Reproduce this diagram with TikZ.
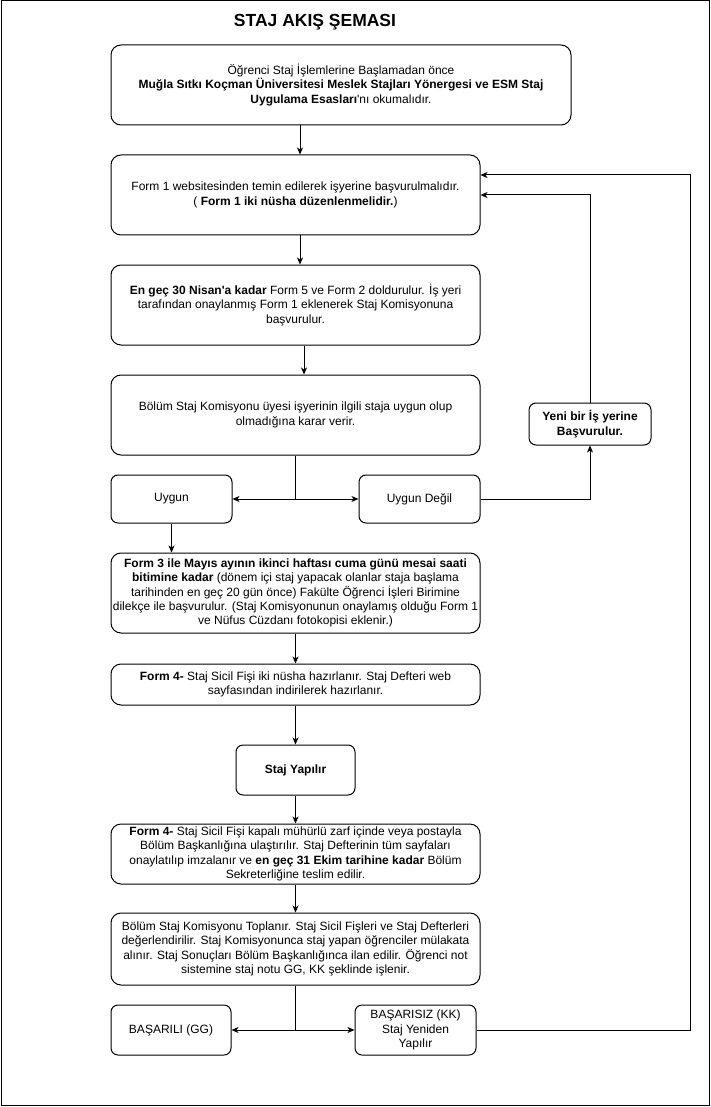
\documentclass[tikz,border=0pt]{standalone}
\usepackage{fontspec}
\setmainfont{Liberation Sans}
\usetikzlibrary{arrows.meta}

\begin{document}
\begin{tikzpicture}[x=1pt, y=-1pt,
               box_style/.style={draw=black, line width=1pt, rounded corners=10pt, align=center, inner sep=0pt, font=\fontsize{12}{14.4}\selectfont, minimum width=369pt, minimum height=80pt},
               small_style/.style={box_style, rounded corners=7pt, minimum width=121pt, minimum height=48pt},
               edge_style/.style={draw=black, line width=1pt, -{Stealth[length=7pt,width=6pt,inset=2pt]}},
               line_style/.style={draw=black, line width=1pt}]
                \useasboundingbox (0,0) rectangle (711,1107);
                \draw[line_style] (1,1) rectangle (709,1105);

                \node[font=\fontsize{17.5}{21}\selectfont\bfseries] (title) at (315,22) {STAJ AKIŞ ŞEMASI};

                \node[box_style, minimum width=460pt] (b0) at (341,85) {Öğrenci Staj İşlemlerine Başlamadan önce\\\textbf{Muğla Sıtkı Koçman Üniversitesi Meslek Stajları Yönergesi ve ESM Staj}\\\textbf{Uygulama Esasları}\textquotesingle nı okumalıdır.};
                \node[box_style] (b1) at (295.5,195) {Form 1 websitesinden temin edilerek işyerine başvurulmalıdır.\\( \textbf{Form 1 iki nüsha düzenlenmelidir.})};
                \node[box_style] (b2) at (295.5,305) {\textbf{En geç 30 Nisan\textquotesingle a kadar} Form 5 ve Form 2 doldurulur. İş yeri\\tarafından onaylanmış Form 1 eklenerek Staj Komisyonuna\\başvurulur.};
                \node[box_style] (b3) at (295.5,415) {Bölüm Staj Komisyonu üyesi işyerinin ilgili staja uygun olup\\olmadığına karar verir.};
                \node[small_style] (ok) at (171.5,499) {Uygun};
                \node[small_style] (notok) at (419.5,499) {Uygun Değil};
                \node[small_style, minimum width=122pt, minimum height=42pt] (newplace) at (590,424) {\textbf{Yeni bir İş yerine}\\\textbf{Başvurulur.}};
                \node[box_style] (b4) at (295.5,593) {\textbf{Form 3 ile Mayıs ayının ikinci haftası cuma günü mesai saati}\\\textbf{bitimine kadar} (dönem içi staj yapacak olanlar staja başlama\\tarihinden en geç 20 gün önce) Fakülte Öğrenci İşleri Birimine\\dilekçe ile başvurulur. (Staj Komisyonunun onaylamış olduğu Form 1\\ve Nüfus Cüzdanı fotokopisi eklenir.)};
                \node[box_style, minimum height=41pt] (b5) at (295.5,684.5) {\textbf{Form 4-} Staj Sicil Fişi iki nüsha hazırlanır. Staj Defteri web\\sayfasından indirilerek hazırlanır.};
                \node[small_style, minimum width=119pt, minimum height=50pt] (work) at (295.5,770) {\textbf{Staj Yapılır}};
                \node[box_style, minimum height=60pt] (b6) at (295.5,854) {\textbf{Form 4-} Staj Sicil Fişi kapalı mühürlü zarf içinde veya postayla\\Bölüm Başkanlığına ulaştırılır. Staj Defterinin tüm sayfaları\\onaylatılıp imzalanır ve \textbf{en geç 31 Ekim tarihine kadar} Bölüm\\Sekreterliğine teslim edilir.};
                \node[box_style, minimum height=72pt] (b7) at (295.5,949) {Bölüm Staj Komisyonu Toplanır. Staj Sicil Fişleri ve Staj Defterleri\\değerlendirilir. Staj Komisyonunca staj yapan öğrenciler mülakata\\alınır. Staj Sonuçları Bölüm Başkanlığınca ilan edilir. Öğrenci not\\sistemine staj notu GG, KK şeklinde işlenir.};
                \node[small_style, minimum width=120pt, minimum height=50pt] (pass) at (171,1030) {BAŞARILI (GG)};
                \node[small_style, minimum height=50pt] (fail) at (415.5,1030) {BAŞARISIZ (KK)\\Staj Yeniden\\Yapılır};

                \draw[edge_style] ([xshift=-41pt]b0.south) -- ([xshift=4.5pt]b1.north);
                \draw[edge_style] ([xshift=4.5pt]b1.south) -- ([xshift=4.5pt]b2.north);
                \draw[edge_style] ([xshift=8.5pt]b2.south) -- ([xshift=8.5pt]b3.north);
                \draw[line_style] (b3.south) -- (b3.south |- ok.east) coordinate (split1);
                \draw[edge_style] (split1) -- (ok.east);
                \draw[edge_style] (split1) -- (notok.west);
                \draw[edge_style] (notok.east) -| (newplace.south);
                \draw[edge_style] (newplace.north) |- (b1.east);
                \draw[edge_style] (ok.south) -- (ok.south |- b4.north);
                \draw[edge_style] (b4.south) -- (b5.north);
                \draw[edge_style] (b5.south) -- (work.north);
                \draw[edge_style] (work.south) -- (b6.north);
                \draw[edge_style] (b6.south) -- (b7.north);
                \draw[line_style] (b7.south) -- (b7.south |- pass.east) coordinate (split2);
                \draw[edge_style] (split2) -- (pass.east);
                \draw[edge_style] (split2) -- (fail.west);
                \draw[edge_style] (fail.east) -- ++(214,0) |- ([yshift=20pt]b1.east);
            \end{tikzpicture}
\end{document}
